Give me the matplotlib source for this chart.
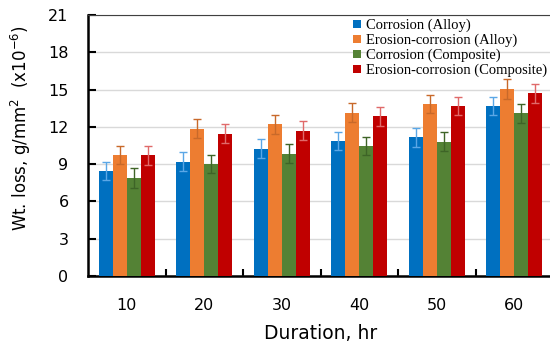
import numpy as np
import matplotlib
matplotlib.use("Agg")
import matplotlib.pyplot as plt

durations = ["10", "20", "30", "40", "50", "60"]
series = ["Corrosion (Alloy)", "Erosion-corrosion (Alloy)",
          "Corrosion (Composite)", "Erosion-corrosion (Composite)"]
corr_alloy = [8.45, 9.2, 10.25, 10.85, 11.15, 13.65]
eros_alloy = [9.75, 11.85, 12.2, 13.15, 13.85, 15.05]
corr_comp = [7.9, 9.0, 9.85, 10.45, 10.8, 13.1]
eros_comp = [9.7, 11.45, 11.7, 12.85, 13.65, 14.7]
err_corr_alloy = [0.75, 0.75, 0.75, 0.73, 0.75, 0.72]
err_eros_alloy = [0.75, 0.77, 0.78, 0.76, 0.75, 0.78]
err_corr_comp = [0.8, 0.72, 0.75, 0.75, 0.76, 0.78]
err_eros_comp = [0.75, 0.75, 0.75, 0.75, 0.72, 0.78]

values = [corr_alloy, eros_alloy, corr_comp, eros_comp]
errors = [err_corr_alloy, err_eros_alloy, err_corr_comp, err_eros_comp]
colors = ["#0070C0", "#ED7D31", "#548235", "#C00000"]
err_colors = ["#5BA7E6", "#C8692A", "#3E6427", "#E06A6A"]

fig = plt.figure(figsize=(5.5, 3.47), dpi=100)
ax = fig.add_axes([0.16, 0.2046, 0.8455, 0.752])

x = np.arange(len(durations))
w = 0.18
for k in range(4):
    pos = x + (k - 1.5) * w
    ax.bar(pos, values[k], w, color=colors[k], label=series[k], zorder=3)
    ax.errorbar(pos, values[k], yerr=errors[k], fmt="none", ecolor=err_colors[k],
                elinewidth=1, capsize=3, capthick=1, zorder=4)

ax.set_xlim(-0.5, 5.5)
ax.set_ylim(0, 21)
ax.set_yticks(range(0, 22, 3))
ax.yaxis.grid(True, color="#d9d9d9", linewidth=1, zorder=0)
ax.set_axisbelow(True)

ax.set_xticks(x + 0.5)
ax.set_xticklabels([])
ax.set_xticks(x, minor=True)
ax.set_xticklabels(durations, minor=True)
ax.tick_params(axis="x", which="major", direction="in", length=5, width=1.5)
ax.tick_params(axis="x", which="minor", length=0, pad=16, labelsize=11.5)
ax.tick_params(axis="y", direction="in", length=6, width=1.5, labelsize=11.5, pad=14)

for s in ["left", "bottom"]:
    ax.spines[s].set_linewidth(1.8)
ax.spines["top"].set_color("#404040")
ax.spines["top"].set_linewidth(0.8)
ax.spines["right"].set_visible(False)

ax.set_xlabel("Duration, hr", fontsize=13.5, labelpad=8)
ax.set_ylabel("Wt. loss, g/mm$^2$  (x10$^{-6}$)", fontsize=12)
ax.yaxis.set_label_coords(-0.118, 0.565)

ax.legend(loc="upper left", bbox_to_anchor=(0.629, 0.967), bbox_transform=fig.transFigure,
          frameon=False, prop={"family": "Liberation Serif", "size": 10.5},
          handlelength=0.5, handleheight=0.5, handletextpad=0.35,
          labelspacing=0.1, borderpad=0)

fig.savefig("out.png", dpi=100)
